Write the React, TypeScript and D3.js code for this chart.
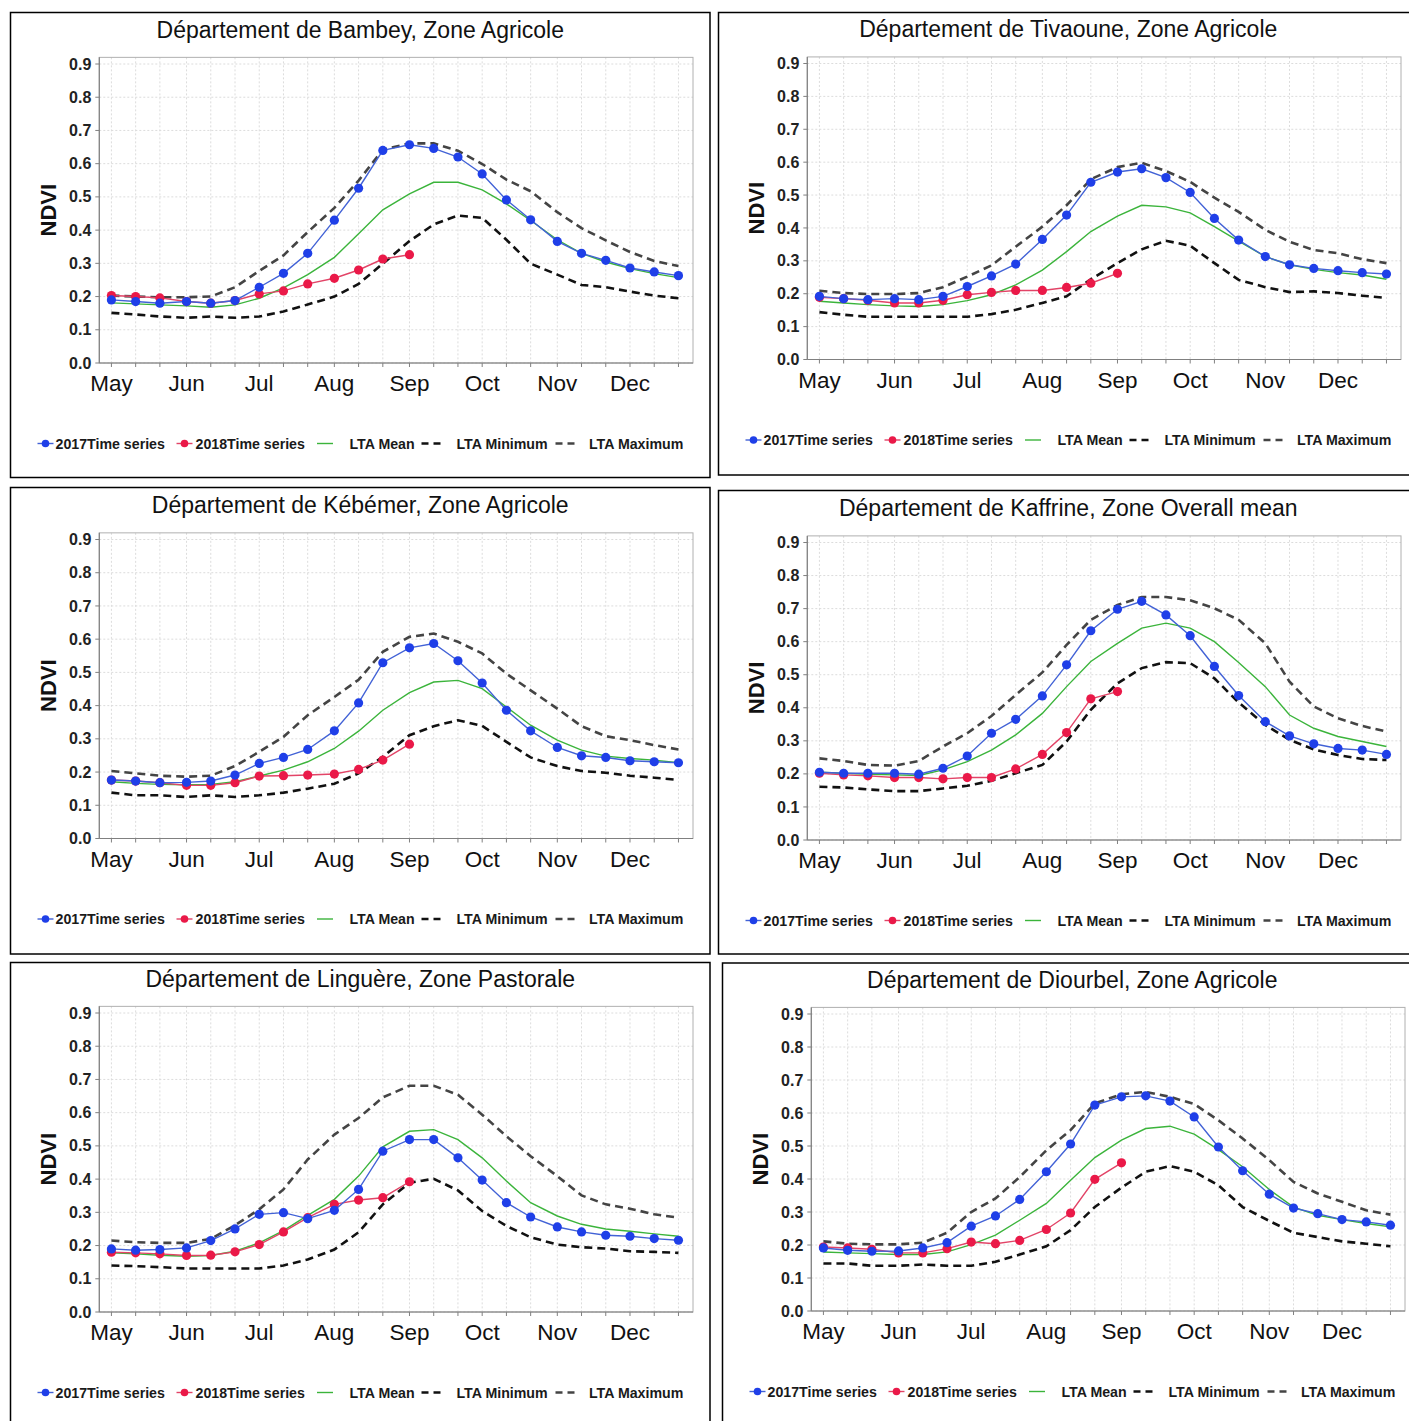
import React from "react";
import * as d3 from "d3";

// dekads (1st, 11th, 21st of each month), May -> Dec
const dekads = [
  "2017-05-01", "2017-05-11", "2017-05-21", "2017-06-01", "2017-06-11", "2017-06-21",
  "2017-07-01", "2017-07-11", "2017-07-21", "2017-08-01", "2017-08-11", "2017-08-21",
  "2017-09-01", "2017-09-11", "2017-09-21", "2017-10-01", "2017-10-11", "2017-10-21",
  "2017-11-01", "2017-11-11", "2017-11-21", "2017-12-01", "2017-12-11", "2017-12-21",
];
const monthLabels = ["May", "Jun", "Jul", "Aug", "Sep", "Oct", "Nov", "Dec"];
const monthStarts = [
  "2017-05-01", "2017-06-01", "2017-07-01", "2017-08-01",
  "2017-09-01", "2017-10-01", "2017-11-01", "2017-12-01",
];
const yTicks = [0, 0.1, 0.2, 0.3, 0.4, 0.5, 0.6, 0.7, 0.8, 0.9];

// Bambey
const bambey2017 = [0.19, 0.185, 0.18, 0.185, 0.18, 0.188, 0.228, 0.27, 0.33, 0.43, 0.526, 0.64, 0.657, 0.646, 0.62, 0.569, 0.491, 0.431, 0.366, 0.33, 0.309, 0.286, 0.274, 0.263];
const bambey2018 = [0.203, 0.2, 0.196, 0.185, 0.18, 0.188, 0.208, 0.217, 0.238, 0.255, 0.28, 0.313, 0.326];
const bambeyMean = [0.181, 0.178, 0.175, 0.172, 0.168, 0.175, 0.195, 0.226, 0.266, 0.318, 0.389, 0.461, 0.509, 0.544, 0.544, 0.521, 0.479, 0.429, 0.371, 0.33, 0.304, 0.284, 0.269, 0.257];
const bambeyMin = [0.151, 0.146, 0.14, 0.136, 0.14, 0.136, 0.14, 0.155, 0.176, 0.2, 0.238, 0.299, 0.367, 0.417, 0.444, 0.437, 0.371, 0.299, 0.266, 0.235, 0.228, 0.215, 0.203, 0.195];
const bambeyMax = [0.203, 0.2, 0.198, 0.198, 0.2, 0.228, 0.277, 0.324, 0.394, 0.467, 0.549, 0.642, 0.661, 0.661, 0.639, 0.599, 0.552, 0.517, 0.454, 0.406, 0.369, 0.334, 0.307, 0.292];

// Tivaoune
const tivaoune2017 = [0.192, 0.185, 0.182, 0.185, 0.182, 0.192, 0.222, 0.254, 0.29, 0.365, 0.439, 0.539, 0.57, 0.58, 0.553, 0.508, 0.429, 0.363, 0.313, 0.288, 0.277, 0.27, 0.264, 0.26];
const tivaoune2018 = [0.189, 0.185, 0.18, 0.172, 0.172, 0.18, 0.197, 0.204, 0.21, 0.21, 0.219, 0.232, 0.262];
const tivaouneMean = [0.177, 0.172, 0.167, 0.163, 0.161, 0.167, 0.179, 0.197, 0.227, 0.272, 0.328, 0.389, 0.436, 0.469, 0.464, 0.446, 0.404, 0.36, 0.313, 0.288, 0.274, 0.264, 0.257, 0.244];
const tivaouneMin = [0.144, 0.136, 0.13, 0.13, 0.13, 0.13, 0.13, 0.138, 0.151, 0.172, 0.192, 0.244, 0.293, 0.335, 0.361, 0.346, 0.293, 0.242, 0.22, 0.205, 0.207, 0.202, 0.194, 0.187];
const tivaouneMax = [0.209, 0.202, 0.199, 0.199, 0.202, 0.22, 0.252, 0.286, 0.343, 0.404, 0.469, 0.548, 0.585, 0.598, 0.573, 0.54, 0.492, 0.449, 0.394, 0.358, 0.333, 0.323, 0.305, 0.293];

// Kébémer
const kebemer2017 = [0.176, 0.173, 0.168, 0.169, 0.173, 0.191, 0.226, 0.244, 0.268, 0.324, 0.408, 0.529, 0.574, 0.587, 0.535, 0.468, 0.386, 0.324, 0.274, 0.249, 0.244, 0.234, 0.231, 0.228];
const kebemer2018 = [0.176, 0.173, 0.168, 0.16, 0.16, 0.168, 0.188, 0.189, 0.191, 0.194, 0.208, 0.236, 0.284];
const kebemerMean = [0.171, 0.166, 0.163, 0.162, 0.163, 0.171, 0.188, 0.206, 0.231, 0.271, 0.323, 0.386, 0.439, 0.471, 0.476, 0.451, 0.396, 0.341, 0.296, 0.266, 0.248, 0.241, 0.236, 0.228];
const kebemerMin = [0.138, 0.13, 0.13, 0.125, 0.13, 0.125, 0.13, 0.138, 0.15, 0.165, 0.196, 0.246, 0.311, 0.338, 0.356, 0.339, 0.291, 0.244, 0.218, 0.203, 0.198, 0.189, 0.183, 0.176];
const kebemerMax = [0.203, 0.196, 0.189, 0.186, 0.189, 0.218, 0.261, 0.306, 0.371, 0.426, 0.478, 0.562, 0.607, 0.617, 0.592, 0.557, 0.496, 0.446, 0.391, 0.338, 0.308, 0.296, 0.281, 0.268];

// Kaffrine
const kaffrine2017 = [0.205, 0.202, 0.202, 0.202, 0.199, 0.217, 0.254, 0.323, 0.365, 0.436, 0.53, 0.633, 0.698, 0.722, 0.681, 0.618, 0.525, 0.437, 0.358, 0.315, 0.291, 0.277, 0.272, 0.259];
const kaffrine2018 = [0.202, 0.197, 0.194, 0.189, 0.189, 0.185, 0.189, 0.189, 0.215, 0.259, 0.325, 0.427, 0.449];
const kaffrineMean = [0.205, 0.202, 0.199, 0.197, 0.195, 0.212, 0.237, 0.272, 0.318, 0.383, 0.464, 0.54, 0.595, 0.641, 0.656, 0.641, 0.6, 0.537, 0.464, 0.378, 0.338, 0.313, 0.298, 0.283];
const kaffrineMin = [0.161, 0.159, 0.153, 0.148, 0.148, 0.156, 0.164, 0.179, 0.202, 0.227, 0.298, 0.394, 0.474, 0.52, 0.538, 0.535, 0.489, 0.416, 0.348, 0.303, 0.274, 0.257, 0.245, 0.242];
const kaffrineMax = [0.247, 0.239, 0.227, 0.225, 0.239, 0.283, 0.323, 0.375, 0.439, 0.507, 0.59, 0.666, 0.711, 0.735, 0.735, 0.725, 0.701, 0.666, 0.595, 0.479, 0.404, 0.368, 0.345, 0.328];

// Linguère
const linguere2017 = [0.19, 0.186, 0.188, 0.193, 0.215, 0.25, 0.294, 0.299, 0.281, 0.306, 0.369, 0.484, 0.519, 0.519, 0.464, 0.397, 0.329, 0.286, 0.256, 0.241, 0.231, 0.228, 0.221, 0.216];
const linguere2018 = [0.18, 0.178, 0.175, 0.17, 0.171, 0.181, 0.203, 0.241, 0.284, 0.324, 0.337, 0.344, 0.392];
const linguereMean = [0.178, 0.175, 0.171, 0.168, 0.17, 0.183, 0.208, 0.245, 0.291, 0.339, 0.409, 0.497, 0.544, 0.549, 0.519, 0.464, 0.394, 0.329, 0.289, 0.264, 0.25, 0.243, 0.235, 0.228];
const linguereMin = [0.14, 0.138, 0.135, 0.131, 0.131, 0.131, 0.131, 0.14, 0.158, 0.188, 0.24, 0.324, 0.389, 0.401, 0.366, 0.304, 0.259, 0.225, 0.203, 0.195, 0.191, 0.183, 0.181, 0.178];
const linguereMax = [0.215, 0.21, 0.208, 0.208, 0.22, 0.261, 0.309, 0.369, 0.459, 0.534, 0.584, 0.646, 0.681, 0.681, 0.654, 0.594, 0.529, 0.469, 0.409, 0.351, 0.324, 0.311, 0.294, 0.284];

// Diourbel
const diourbel2017 = [0.191, 0.184, 0.181, 0.182, 0.191, 0.207, 0.257, 0.288, 0.338, 0.422, 0.506, 0.624, 0.649, 0.652, 0.636, 0.588, 0.497, 0.425, 0.354, 0.312, 0.295, 0.277, 0.27, 0.26];
const diourbel2018 = [0.194, 0.191, 0.187, 0.176, 0.176, 0.189, 0.209, 0.204, 0.214, 0.247, 0.297, 0.399, 0.449];
const diourbelMean = [0.179, 0.176, 0.174, 0.171, 0.171, 0.179, 0.201, 0.23, 0.275, 0.326, 0.396, 0.465, 0.518, 0.553, 0.56, 0.536, 0.489, 0.437, 0.368, 0.315, 0.29, 0.277, 0.265, 0.255];
const diourbelMin = [0.144, 0.144, 0.137, 0.137, 0.141, 0.137, 0.137, 0.149, 0.171, 0.196, 0.245, 0.315, 0.374, 0.422, 0.439, 0.422, 0.381, 0.315, 0.273, 0.237, 0.224, 0.211, 0.204, 0.196];
const diourbelMax = [0.211, 0.204, 0.202, 0.202, 0.207, 0.237, 0.3, 0.341, 0.406, 0.487, 0.548, 0.629, 0.657, 0.664, 0.649, 0.627, 0.578, 0.523, 0.457, 0.391, 0.356, 0.331, 0.305, 0.292];

const panels = [
  { title: "Département de Bambey, Zone Agricole", s17: bambey2017, s18: bambey2018, mean: bambeyMean, min: bambeyMin, max: bambeyMax, bx: 10.5, by: 12.5, bh: 465, y9: 64, y0: 363 },
  { title: "Département de Tivaoune, Zone Agricole", s17: tivaoune2017, s18: tivaoune2018, mean: tivaouneMean, min: tivaouneMin, max: tivaouneMax, bx: 718.5, by: 12.5, bh: 462.5, y9: 63.5, y0: 359.5 },
  { title: "Département de Kébémer, Zone Agricole", s17: kebemer2017, s18: kebemer2018, mean: kebemerMean, min: kebemerMin, max: kebemerMax, bx: 10.5, by: 487.5, bh: 466.5, y9: 539.5, y0: 838.5 },
  { title: "Département de Kaffrine, Zone Overall mean", s17: kaffrine2017, s18: kaffrine2018, mean: kaffrineMean, min: kaffrineMin, max: kaffrineMax, bx: 718.5, by: 490.5, bh: 463.5, y9: 542.5, y0: 840 },
  { title: "Département de Linguère, Zone Pastorale", s17: linguere2017, s18: linguere2018, mean: linguereMean, min: linguereMin, max: linguereMax, bx: 10.5, by: 962.5, bh: 470, y9: 1013, y0: 1312 },
  { title: "Département de Diourbel, Zone Agricole", s17: diourbel2017, s18: diourbel2018, mean: diourbelMean, min: diourbelMin, max: diourbelMax, bx: 722.5, by: 963, bh: 470, y9: 1014, y0: 1311 },
];

const parse = d3.utcParse("%Y-%m-%d");
const dekadDates = dekads.map((d) => parse(d) as Date);
const monthDates = monthStarts.map((d) => parse(d) as Date);

const FONT = "'Liberation Sans', Arial, Helvetica, sans-serif";
const C17 = "#1f3fe8";
const C17L = "#4262d6";
const C18 = "#ea1948";
const C18L = "#e24467";
const CMEAN = "#3bb43b";
const CMIN = "#111111";
const CMAX = "#444444";

function Panel({ p }: { p: (typeof panels)[number] }) {
  const W = 699.5;
  const x = d3
    .scaleUtc()
    .domain([parse("2017-04-26") as Date, parse("2017-12-27") as Date])
    .range([p.bx + 88.8, p.bx + 682.5]);
  const y = d3.scaleLinear().domain([0, 0.9]).range([p.y0, p.y9]);
  const [pl, pr] = x.range();
  const pt = y(0.92);
  const pb = y(0);

  const line = d3
    .line<number>()
    .x((_, i) => x(dekadDates[i]))
    .y((v) => y(v));

  const legendY = p.y0 + 85.5;
  const lx = p.bx;

  return (
    <g>
      <rect x={p.bx} y={p.by} width={W} height={p.bh} fill="#fff" stroke="#000" strokeWidth={1.5} />
      <text x={p.bx + W / 2} y={p.y9 - 26.5} textAnchor="middle" fontFamily={FONT} fontSize={23} fill="#111">
        {p.title}
      </text>

      {/* grid */}
      {yTicks.map((t) => (
        <line key={"gy" + t} x1={pl} x2={pr} y1={y(t)} y2={y(t)} stroke="#dcdcdc" strokeWidth={1} strokeDasharray="2,2" />
      ))}
      {dekadDates.map((d, i) => (
        <line key={"gx" + i} x1={x(d)} x2={x(d)} y1={pt} y2={pb} stroke="#dcdcdc" strokeWidth={1} strokeDasharray="2,2" />
      ))}
      <rect x={pl} y={pt} width={pr - pl} height={pb - pt} fill="none" stroke="#b0b0b0" strokeWidth={1} />

      {/* axes */}
      <line x1={pl} x2={pl} y1={pt} y2={pb} stroke="#808080" strokeWidth={1.2} />
      <line x1={pl} x2={pr} y1={pb} y2={pb} stroke="#808080" strokeWidth={1.2} />
      {yTicks.map((t) => (
        <g key={"ty" + t}>
          <line x1={pl - 4} x2={pl} y1={y(t)} y2={y(t)} stroke="#808080" />
          <text x={pl - 8} y={y(t) + 5.6} textAnchor="end" fontFamily={FONT} fontSize={16} fontWeight="bold" fill="#222">
            {d3.format(".1f")(t)}
          </text>
        </g>
      ))}
      {dekadDates.map((d, i) => (
        <line key={"tx" + i} x1={x(d)} x2={x(d)} y1={pb} y2={pb + 4} stroke="#808080" />
      ))}
      {monthDates.map((d, i) => (
        <text key={"m" + i} x={x(d)} y={pb + 28} textAnchor="middle" fontFamily={FONT} fontSize={22.5} fill="#111">
          {monthLabels[i]}
        </text>
      ))}
      <text
        transform={`translate(${p.bx + 37.5},${(pt + pb) / 2}) rotate(-90)`}
        dy="0.36em"
        textAnchor="middle"
        fontFamily={FONT}
        fontSize={22}
        fontWeight="bold"
        fill="#111"
      >
        NDVI
      </text>

      {/* series */}
      <path d={line(p.max) || ""} fill="none" stroke={CMAX} strokeWidth={2.6} strokeDasharray="8,5" />
      <path d={line(p.min) || ""} fill="none" stroke={CMIN} strokeWidth={2.6} strokeDasharray="8,5" />
      <path d={line(p.mean) || ""} fill="none" stroke={CMEAN} strokeWidth={1.4} />
      <path d={line(p.s18) || ""} fill="none" stroke={C18L} strokeWidth={1.4} />
      {p.s18.map((v, i) => (
        <circle key={"r" + i} cx={x(dekadDates[i])} cy={y(v)} r={4.6} fill={C18} />
      ))}
      <path d={line(p.s17) || ""} fill="none" stroke={C17L} strokeWidth={1.4} />
      {p.s17.map((v, i) => (
        <circle key={"b" + i} cx={x(dekadDates[i])} cy={y(v)} r={4.6} fill={C17} />
      ))}

      {/* legend */}
      <g fontFamily={FONT} fontSize={14.2} fontWeight="bold" fill="#1a1a1a">
        <line x1={lx + 27} x2={lx + 43} y1={legendY - 5} y2={legendY - 5} stroke={C17L} strokeWidth={1.4} />
        <circle cx={lx + 35} cy={legendY - 5} r={3.8} fill={C17} />
        <text x={lx + 45} y={legendY}>2017Time series</text>
        <line x1={lx + 166} x2={lx + 182} y1={legendY - 5} y2={legendY - 5} stroke={C18L} strokeWidth={1.4} />
        <circle cx={lx + 174} cy={legendY - 5} r={3.8} fill={C18} />
        <text x={lx + 185} y={legendY}>2018Time series</text>
        <line x1={lx + 306.5} x2={lx + 322.5} y1={legendY - 5} y2={legendY - 5} stroke={CMEAN} strokeWidth={1.4} />
        <text x={lx + 339} y={legendY}>LTA Mean</text>
        <line x1={lx + 411} x2={lx + 431} y1={legendY - 5} y2={legendY - 5} stroke={CMIN} strokeWidth={2.4} strokeDasharray="7,5" />
        <text x={lx + 446} y={legendY}>LTA Minimum</text>
        <line x1={lx + 545} x2={lx + 565} y1={legendY - 5} y2={legendY - 5} stroke={CMAX} strokeWidth={2.4} strokeDasharray="7,5" />
        <text x={lx + 578.5} y={legendY}>LTA Maximum</text>
      </g>
    </g>
  );
}

export default function App() {
  return (
    <div style={{ position: "absolute", left: 0, top: 0, background: "#fff" }}>
      <svg width={1409} height={1421} style={{ display: "block" }}>
        <rect x={0} y={0} width={1409} height={1421} fill="#fff" />
        {panels.map((p, i) => (
          <Panel key={i} p={p} />
        ))}
      </svg>
    </div>
  );
}
